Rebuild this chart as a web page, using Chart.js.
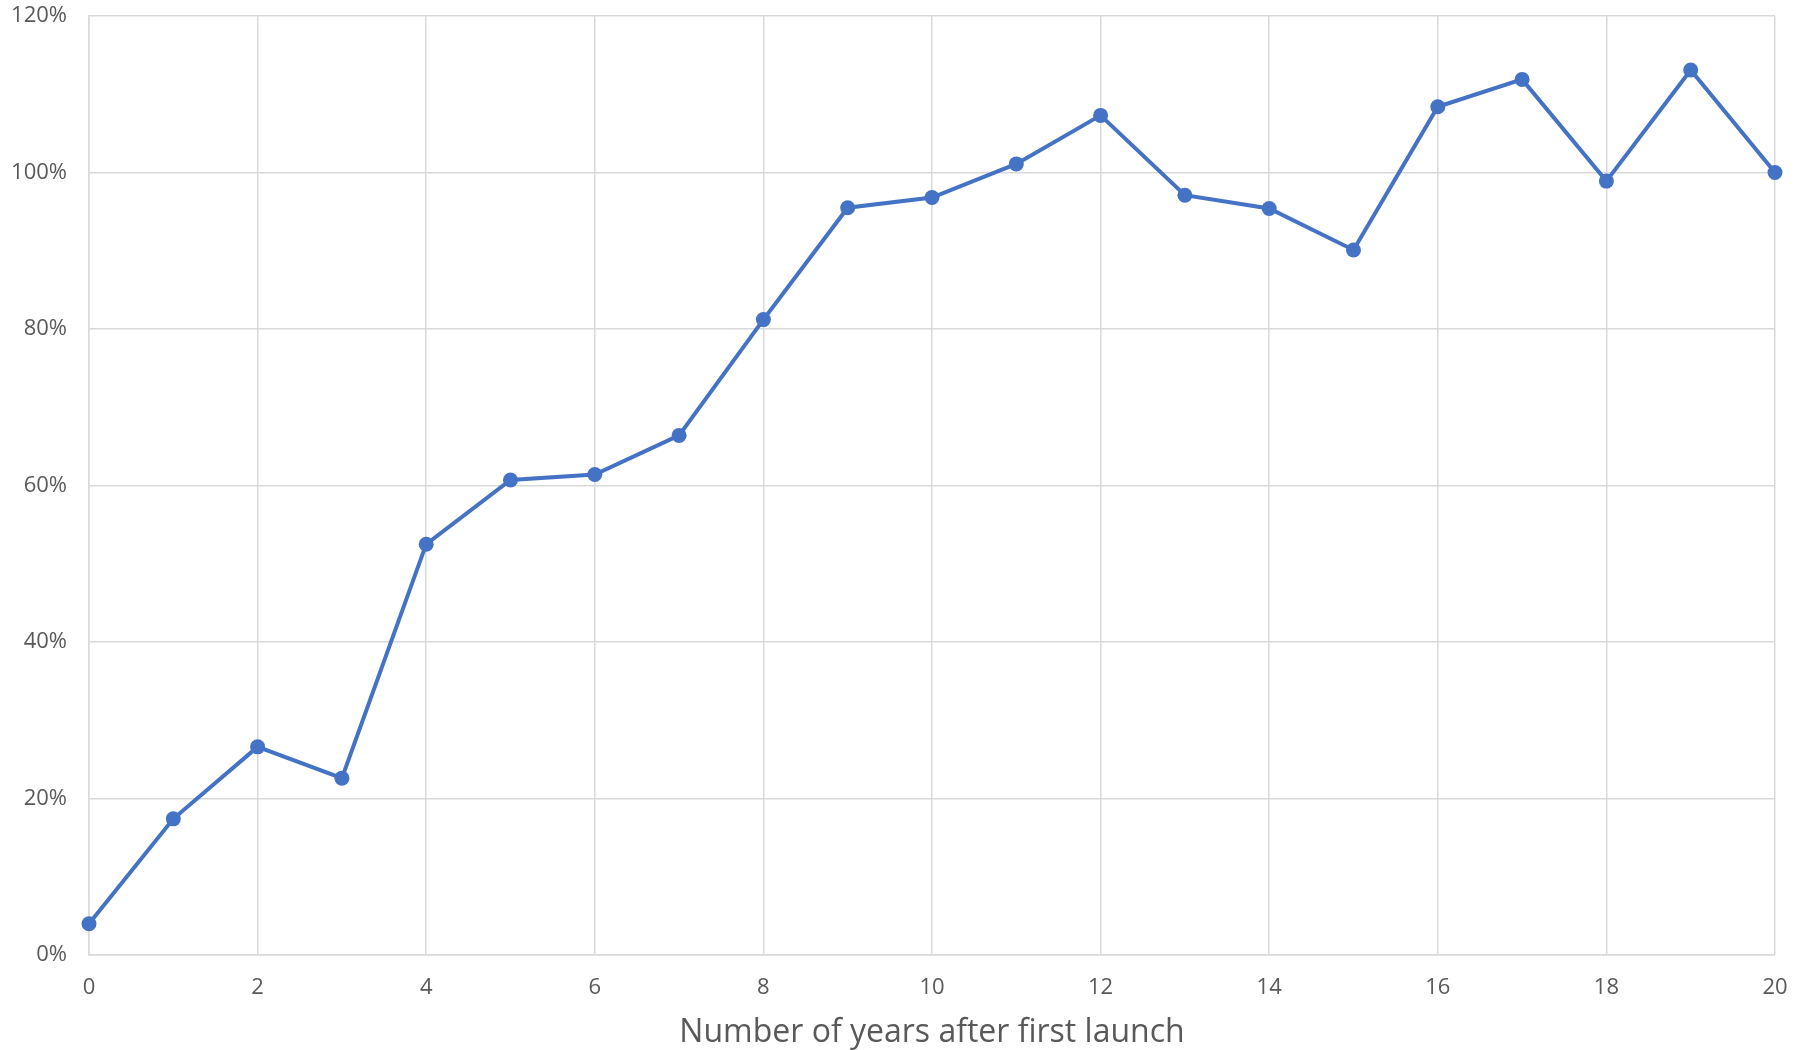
<!DOCTYPE html>
<html>
<head>
<meta charset="utf-8">
<script src="https://cdn.jsdelivr.net/npm/chart.js@4.4.1/dist/chart.umd.min.js"></script>
<style>
  html, body { margin: 0; padding: 0; background: #ffffff; }
  #wrap { width: 1796px; height: 1050px; }
</style>
</head>
<body>
<div id="wrap"><canvas id="c" width="1796" height="1050"></canvas></div>
<script>
const years = [0,1,2,3,4,5,6,7,8,9,10,11,12,13,14,15,16,17,18,19,20];
const shareValues = [4.0,17.4,26.6,22.6,52.5,60.7,61.4,66.4,81.2,95.5,96.8,101.1,107.3,97.1,95.4,90.1,108.4,111.9,98.9,113.1,100.0];
const yTicks = [0,20,40,60,80,100,120];
const xTicks = [0,2,4,6,8,10,12,14,16,18,20];
const xTitle = 'Number of years after first launch';

const points = years.map((x, i) => ({ x: x, y: shareValues[i] }));
const FONT = "'Open Sans', 'Liberation Sans', sans-serif";
const GRID = '#d9d9d9';
const TEXT = '#595959';

new Chart(document.getElementById('c'), {
  type: 'line',
  data: {
    datasets: [{
      data: points,
      borderColor: '#4472C4',
      backgroundColor: '#4472C4',
      borderWidth: 4,
      pointRadius: 7.5,
      pointHoverRadius: 7.5,
      pointBorderWidth: 0,
      tension: 0,
      fill: false,
      clip: 10
    }]
  },
  options: {
    responsive: false,
    animation: false,
    layout: { padding: { top: 16, right: 21, left: 0, bottom: 0 } },
    plugins: { legend: { display: false }, tooltip: { enabled: false } },
    scales: {
      x: {
        type: 'linear',
        min: 0, max: 20,
        afterBuildTicks: (s) => { s.ticks = xTicks.map(v => ({ value: v })); },
        ticks: { color: TEXT, font: { family: FONT, size: 22 }, padding: 20, maxRotation: 0 },
        grid: { color: GRID, lineWidth: 1.5, drawTicks: false },
        border: { color: GRID, width: 1.5 },
        title: { display: true, text: xTitle, color: TEXT, font: { family: FONT, size: 32 }, padding: { top: 10, bottom: -2 } },
        afterFit: (s) => { s.height = 95; s.paddingLeft = 0; s.paddingRight = 0; }
      },
      y: {
        min: 0, max: 120,
        afterBuildTicks: (s) => { s.ticks = yTicks.map(v => ({ value: v })); },
        ticks: { color: TEXT, font: { family: FONT, size: 22 }, padding: 22, callback: (v) => v + '%' },
        grid: { color: GRID, lineWidth: 1.5, drawTicks: false },
        border: { color: GRID, width: 1.5 },
        afterFit: (s) => { s.width = 89; s.paddingTop = 0; s.paddingBottom = 0; }
      }
    }
  }
});
</script>
</body>
</html>
